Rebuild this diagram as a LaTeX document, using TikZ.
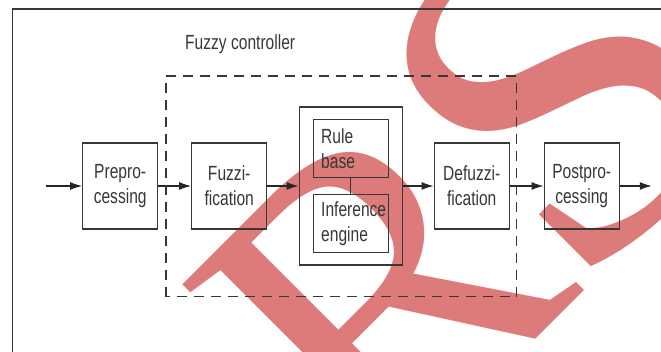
\documentclass[tikz,border=0pt]{standalone}
\usepackage{fontspec}
\newfontfamily\labelfont{Liberation Sans}[FakeStretch=0.76]
\newfontfamily\stampfont{Liberation Serif}
\usetikzlibrary{arrows.meta,
                positioning}
\definecolor{linegray}{RGB}{55,55,55}
\definecolor{stampred}{RGB}{221,123,123}
\tikzset{block/.style =
   {rectangle,
    draw=linegray,
    line width=1.2pt,
    text=linegray,
    align=center,
    minimum width=75pt,
    minimum height=86pt,
    inner sep=0pt,
    font=\labelfont\fontsize{20.5}{25}\selectfont}}
\tikzset{subblock/.style =
   {block,
    minimum height=58pt,
    text width=59pt,
    inner xsep=8pt,
    align=left}}
\tikzset{arrow/.style = {draw=black!85, line width=1.2pt, -{Latex[length=12pt, width=8pt]}}}
\tikzset{boundary/.style = {draw=linegray, line width=1.3pt, dash pattern=on 10pt off 7pt}}

\begin{document}
\begin{tikzpicture}[x=1pt, y=1pt, node distance=32.8pt]

    \useasboundingbox (0,0) rectangle (661,352);
    \clip (0,0) rectangle (661,352);

    % stamp lies under the drawing
    \node [rotate=45,
           anchor=base west,
           inner sep=0pt,
           text=stampred,
           font=\stampfont\fontsize{440}{440}\selectfont] (stamp) at (377,-146)
          {R\kern-12pt{\fontsize{485}{485}\selectfont S}};

    % frame of the page, cut by the right and bottom edge
    \draw [linegray, line width=1.4pt] (12.7,-20) rectangle (700,343);

    \node [block] (pre) at (120.2,166) {Prepro-\\cessing};

    \node [block,
           right = of pre] (fuz) {Fuzzi-\\fication};

    \node [block,
           minimum width=103pt,
           minimum height=158pt,
           right = 31.3pt of fuz] (core) {};

    \node [subblock,
           above = 8pt of core.center] (rule) {Rule\\base};

    \node [subblock,
           below = 8pt of core.center] (engine) {Inference\\engine};

    \node [block,
           right = 30.8pt of core] (defuz) {Defuzzi-\\fication};

    \node [block,
           right = 33.8pt of defuz] (post) {Postpro-\\cessing};

    \coordinate [left = 36pt of pre] (in);
    \coordinate [right = 32pt of post] (out);

    \draw [arrow] (in) -- (pre);
    \draw [arrow] (pre) -- (fuz);
    \draw [arrow] (fuz) -- (core);
    \draw [arrow] (core) -- (defuz);
    \draw [arrow] (defuz) -- (post);
    \draw [arrow] (post) -- (out);
    \draw [linegray, line width=1.2pt] (rule) -- (engine);

    % dashed limit of the controller
    \draw [boundary] (166,55.3) rectangle (516.7,276);

    \node [anchor=base west,
           inner sep=0pt,
           text=linegray,
           font=\labelfont\fontsize{20.5}{25}\selectfont] (title) at (185,302.7) {Fuzzy controller};

\end{tikzpicture}
\end{document}
